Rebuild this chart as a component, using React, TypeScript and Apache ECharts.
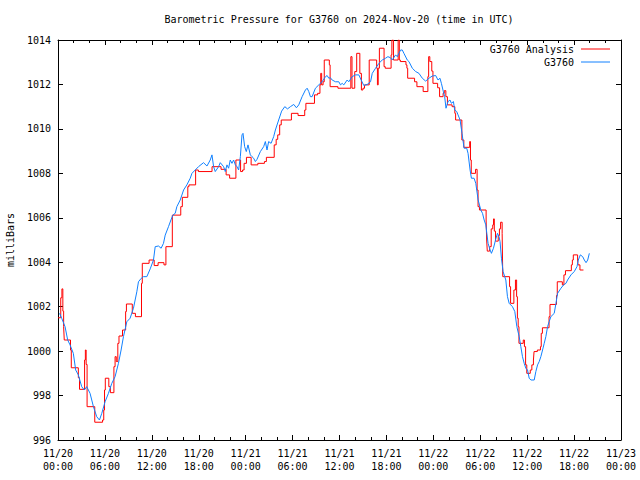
import React, { useEffect, useRef } from "react";
import * as echarts from "echarts";

const FONT = "'DejaVu Sans Mono', 'Liberation Mono', monospace";

const TITLE = "Barometric Pressure for G3760 on 2024-Nov-20 (time in UTC)";
const Y_NAME = "milliBars";
const SERIES_NAMES = ["G3760 Analysis", "G3760"];
const TICK_DATES = ["11/20", "11/20", "11/20", "11/20", "11/21", "11/21", "11/21", "11/21", "11/22", "11/22", "11/22", "11/22", "11/23"];
const TICK_TIMES = ["00:00", "06:00", "12:00", "18:00", "00:00", "06:00", "12:00", "18:00", "00:00", "06:00", "12:00", "18:00", "00:00"];

// hours since 2024-11-20 00:00 UTC, pressure in mb
const analysisHours = [
  0.0, 0.35, 0.5, 0.62, 0.72, 0.8, 1.6, 1.7, 2.6, 2.75, 3.4, 3.5, 3.6, 3.72, 4.7, 5.7, 5.85, 5.95, 6.05, 6.5,
  6.7, 7.15, 7.3, 7.45, 7.65, 7.8, 8.25, 8.65, 8.75, 9.5, 9.9, 10.68, 10.78, 11.65, 12.3, 12.8, 13.55, 13.8, 14.62, 15.7,
  15.9, 16.6, 16.75, 17.6, 17.95, 19.7, 20.85, 21.5, 21.95, 22.75, 23.35, 23.6, 23.8, 24.1, 24.7, 25.55, 26.4, 26.65, 27.65, 27.9,
  28.1, 28.35, 28.55, 29.85, 30.7, 31.55, 31.7, 32.8, 33.2, 33.5, 33.6, 33.72, 33.9, 34.05, 34.7, 34.8, 35.8, 37.45, 37.6, 37.95,
  38.2, 38.6, 38.8, 39.0, 39.2, 39.8, 40.75, 40.85, 40.95, 41.1, 41.7, 41.85, 42.6, 42.7, 42.9, 43.5, 43.65, 43.78, 44.5, 44.62,
  44.72, 45.6, 45.9, 46.7, 47.3, 47.4, 47.55, 47.8, 47.95, 48.55, 48.8, 49.25, 49.4, 49.6, 49.8, 50.4, 50.75, 50.85, 51.65, 51.9,
  52.65, 52.75, 52.85, 53.4, 53.6, 53.72, 53.9, 54.75, 54.82, 54.9, 55.2, 55.4, 55.6, 55.7, 55.8, 55.95, 56.3, 56.45, 56.6, 56.8,
  56.88, 57.75, 57.88, 58.3, 58.5, 58.65, 58.75, 58.85, 58.95, 59.5, 59.65, 59.8, 59.95, 60.4, 60.6, 60.8, 60.88, 61.3, 61.7, 61.8,
  61.95, 62.8, 62.92, 63.75, 63.85, 64.5, 64.7, 64.9, 65.65, 65.78, 65.9, 66.45, 66.5, 66.75, 67.2,
];
const analysisValues = [
  1001.5, 1002.4, 1002.8, 1001.8, 1001.1, 1000.5, 1000.05, 999.25, 998.8, 998.28, 999.6, 1000.05, 999.4, 997.5, 996.8, 996.9, 997.35, 998.25, 998.78, 998.4,
  998.13, 999.3, 999.75, 999.53, 1000.35, 1000.68, 1000.95, 1001.78, 1002.12, 1001.7, 1001.55, 1003.05, 1003.95, 1004.1, 1003.85, 1003.98, 1003.88, 1004.7, 1006.12, 1006.5,
  1006.92, 1007.4, 1007.48, 1008.15, 1008.08, 1008.3, 1008.18, 1007.93, 1007.78, 1008.6, 1008.08, 1008.15, 1008.45, 1008.72, 1008.38, 1008.45, 1008.53, 1008.72, 1009.28, 1009.53,
  1009.73, 1010.18, 1010.4, 1010.7, 1010.6, 1010.85, 1011.15, 1011.53, 1011.6, 1011.98, 1012.5, 1011.98, 1012.12, 1013.1, 1012.88, 1011.9, 1011.83, 1013.25, 1011.83, 1012.58,
  1013.4, 1012.5, 1011.75, 1011.83, 1011.98, 1013.1, 1012.73, 1011.98, 1012.73, 1013.63, 1012.8, 1012.73, 1013.33, 1014.0, 1013.1, 1014.0, 1013.1, 1013.03, 1012.88, 1012.73,
  1012.28, 1012.12, 1011.9, 1011.68, 1012.35, 1013.25, 1013.03, 1012.6, 1012.05, 1011.85, 1011.45, 1011.6, 1011.72, 1011.45, 1011.08, 1011.0, 1010.7, 1010.4, 1009.5, 1009.17,
  1009.43, 1008.6, 1008.0, 1008.18, 1007.25, 1006.5, 1006.35, 1005.9, 1005.0, 1004.5, 1004.7, 1005.5, 1005.68, 1005.95, 1005.4, 1004.95, 1005.2, 1005.5, 1005.8, 1005.3,
  1003.35, 1002.9, 1002.15, 1002.75, 1003.2, 1002.45, 1001.48, 1001.1, 1000.35, 1000.5, 1000.2, 999.38, 999.0, 999.15, 999.38, 999.6, 999.98, 1000.05, 1000.2, 1000.8,
  1001.05, 1001.55, 1002.1, 1002.5, 1003.12, 1002.98, 1003.43, 1003.62, 1003.88, 1004.1, 1004.33, 1004.1, 1003.88, 1003.65, 1003.65,
];

const stationHours = [
  0.2, 0.47, 0.9, 1.24, 1.54, 1.96, 2.26, 2.6, 3.03, 3.37, 3.67, 4.1, 4.53, 4.95, 5.3, 5.6, 6.02, 6.45, 6.88, 7.3,
  7.73, 8.07, 8.37, 8.8, 9.22, 9.65, 10.08, 10.29, 10.63, 10.93, 11.36, 11.79, 12.21, 12.43, 12.85, 13.19, 13.49, 13.71, 14.13, 14.44,
  14.69, 14.99, 15.2, 15.63, 16.06, 16.48, 16.91, 17.13, 17.55, 17.97, 18.61, 19.05, 19.47, 19.69, 19.9, 20.11, 20.54, 20.75, 21.18, 21.39,
  21.61, 21.82, 22.03, 22.25, 22.46, 22.68, 22.89, 23.1, 23.32, 23.53, 23.66, 23.87, 24.08, 24.3, 24.6, 24.81, 25.02, 25.24, 25.45, 25.88,
  26.3, 26.52, 26.73, 26.94, 27.25, 27.58, 27.8, 28.22, 28.6, 29.0, 29.35, 29.72, 30.15, 30.49, 30.79, 31.22, 31.64, 31.86, 32.07, 32.28,
  32.5, 32.92, 33.35, 33.78, 34.2, 34.42, 34.63, 34.84, 35.06, 35.49, 35.91, 36.13, 36.34, 36.55, 36.98, 37.19, 37.62, 38.05, 38.47, 38.77,
  39.11, 39.54, 39.97, 40.19, 40.61, 41.04, 41.47, 41.89, 42.19, 42.53, 42.75, 43.17, 43.39, 43.81, 44.03, 44.24, 44.67, 44.88, 45.31, 45.74,
  46.16, 46.59, 47.02, 47.44, 47.87, 48.3, 48.6, 48.85, 49.03, 49.28, 49.45, 49.62, 49.88, 50.13, 50.31, 50.57, 50.73, 50.99, 51.16, 51.42,
  51.67, 51.93, 52.27, 52.44, 52.7, 52.87, 53.21, 53.43, 53.73, 54.07, 54.29, 54.5, 54.71, 54.84, 55.0, 55.26, 55.43, 55.69, 55.99, 56.2,
  56.4, 56.53, 56.71, 56.92, 57.27, 57.48, 57.7, 58.12, 58.42, 58.68, 58.98, 59.19, 59.4, 59.62, 59.83, 60.05, 60.26, 60.48, 60.9, 61.11,
  61.33, 61.54, 61.75, 61.97, 62.18, 62.39, 62.61, 62.82, 63.03, 63.46, 63.68, 63.89, 64.32, 64.66, 64.96, 65.17, 65.6, 66.02, 66.37, 66.54,
  66.8, 67.1, 67.31, 67.53, 67.74, 67.95,
];
const stationValues = [
  1001.7, 1001.48, 1001.1, 1000.5, 1000.28, 999.9, 999.15, 998.93, 998.4, 998.25, 998.4, 998.1, 997.5, 997.05, 996.9, 997.2, 997.72, 998.1, 998.55, 998.85,
  999.45, 1000.05, 1000.65, 1001.32, 1001.48, 1001.93, 1002.67, 1003.12, 1003.27, 1003.35, 1003.35, 1003.7, 1004.1, 1004.7, 1004.73, 1004.63, 1004.85, 1005.22, 1005.6, 1005.9,
  1006.12, 1006.2, 1006.5, 1006.8, 1007.25, 1007.48, 1007.78, 1008.0, 1008.15, 1008.3, 1008.48, 1008.33, 1008.6, 1008.83, 1008.3, 1008.08, 1008.3, 1008.48, 1008.3, 1008.08,
  1008.38, 1008.23, 1008.6, 1008.45, 1008.6, 1008.38, 1008.3, 1008.15, 1008.75, 1009.73, 1009.8, 1009.2, 1008.98, 1009.28, 1008.83, 1008.75, 1008.68, 1008.53, 1008.63, 1008.98,
  1009.2, 1009.43, 1009.05, 1009.43, 1009.35, 1009.65, 1009.95, 1010.4, 1010.8, 1011.0, 1010.9, 1011.0, 1011.1, 1010.95, 1011.08, 1011.45, 1011.75, 1011.83, 1011.68, 1011.45,
  1011.45, 1011.83, 1011.98, 1012.12, 1012.35, 1012.4, 1012.28, 1012.3, 1012.2, 1012.12, 1012.12, 1011.98, 1012.05, 1011.98, 1012.2, 1012.12, 1012.35, 1012.43, 1012.43, 1012.2,
  1011.95, 1012.0, 1012.12, 1012.5, 1012.73, 1012.95, 1013.1, 1013.18, 1013.25, 1013.2, 1013.1, 1013.33, 1013.25, 1013.55, 1013.55, 1013.4, 1013.1, 1013.03, 1012.73, 1012.58,
  1012.5, 1012.28, 1012.15, 1012.28, 1012.38, 1012.4, 1012.2, 1012.28, 1012.05, 1011.68, 1011.45, 1010.93, 1011.23, 1011.3, 1011.15, 1011.23, 1010.85, 1010.78, 1010.63, 1010.4,
  1009.8, 1009.13, 1009.13, 1008.9, 1008.15, 1007.78, 1007.78, 1007.55, 1006.8, 1006.35, 1006.2, 1005.9, 1005.68, 1005.3, 1004.85, 1004.55, 1004.4, 1004.63, 1005.05, 1005.3,
  1005.15, 1004.93, 1004.18, 1003.58, 1003.2, 1002.45, 1002.15, 1002.0, 1001.78, 1001.1, 1000.65, 1000.2, 999.75, 999.45, 999.23, 999.15, 998.78, 998.7, 998.7, 999.08,
  999.38, 999.53, 999.75, 1000.05, 1000.35, 1000.65, 1001.1, 1001.33, 1001.55, 1001.7, 1002.15, 1002.6, 1002.83, 1002.98, 1003.05, 1003.2, 1003.43, 1003.58, 1003.8, 1004.1,
  1004.33, 1004.25, 1004.1, 1003.98, 1004.1, 1004.4,
];

const X_MIN = 0;
const X_MAX = 72;
const X_STEP = 6;
const Y_MIN = 996;
const Y_MAX = 1014;
const Y_STEP = 2;

const RED = "#ff0000";
const BLUE = "#1080ff";

export default function App() {
  const ref = useRef<HTMLDivElement>(null);

  useEffect(() => {
    if (!ref.current) return;
    const chart = echarts.init(ref.current, null, { renderer: "svg" });

    const grid = { left: 58, right: 19, top: 40, bottom: 40, containLabel: false, outerBoundsMode: "none" };
    const lineStyle = { color: "#000", width: 1 };
    const xLabel = (v: number) => {
      const i = Math.round(v / X_STEP);
      return `${TICK_DATES[i]}\n${TICK_TIMES[i]}`;
    };

    const xCommon = {
      type: "value" as const,
      min: X_MIN,
      max: X_MAX,
      interval: X_STEP,
      axisLine: { show: true, onZero: false, lineStyle },
      axisTick: { show: true, inside: true, length: 5, lineStyle },
      minorTick: { show: true, splitNumber: 3, length: 3, lineStyle },
      splitLine: { show: false },
    };
    const yCommon = {
      type: "value" as const,
      min: Y_MIN,
      max: Y_MAX,
      interval: Y_STEP,
      axisLine: { show: true, onZero: false, lineStyle },
      axisTick: { show: true, inside: true, length: 5, lineStyle },
      splitLine: { show: false },
    };

    const legendY = [49, 62];

    chart.setOption({
      animation: false,
      backgroundColor: "#fff",
      grid,
      xAxis: [
        {
          ...xCommon,
          position: "bottom",
          axisLabel: {
            show: true,
            formatter: xLabel,
            fontFamily: FONT,
            fontSize: 10,
            color: "#000",
            lineHeight: 13,
            margin: 7,
            showMinLabel: true,
            showMaxLabel: true,
            hideOverlap: false,
          },
        },
        { ...xCommon, position: "top", axisLabel: { show: false } },
      ],
      yAxis: [
        {
          ...yCommon,
          position: "left",
          name: Y_NAME,
          nameLocation: "middle",
          nameRotate: 90,
          nameGap: 43,
          nameTextStyle: { fontFamily: FONT, fontSize: 10, color: "#000" },
          axisLabel: {
            show: true,
            formatter: (v: number) => String(v),
            fontFamily: FONT,
            fontSize: 10,
            color: "#000",
            margin: 7,
          },
        },
        { ...yCommon, position: "right", axisLabel: { show: false } },
      ],
      graphic: [
        {
          type: "text",
          x: 339,
          y: 19,
          style: {
            text: TITLE,
            fontFamily: FONT,
            fontSize: 10,
            fill: "#000",
            textAlign: "center",
            textVerticalAlign: "middle",
          },
        },
        ...SERIES_NAMES.flatMap((name, i) => [
          {
            type: "text",
            x: 574,
            y: legendY[i],
            style: {
              text: name,
              fontFamily: FONT,
              fontSize: 10,
              fill: "#000",
              textAlign: "right",
              textVerticalAlign: "middle",
            },
          },
          {
            type: "line",
            shape: { x1: 581, y1: legendY[i], x2: 610, y2: legendY[i] },
            style: { stroke: i === 0 ? RED : BLUE, lineWidth: 1 },
          },
        ]),
      ],
      series: [
        {
          name: SERIES_NAMES[0],
          type: "line",
          step: "end",
          xAxisIndex: 0,
          yAxisIndex: 0,
          showSymbol: false,
          symbol: "none",
          data: analysisHours.map((h, i) => [h, analysisValues[i]]),
          lineStyle: { color: RED, width: 1 },
          itemStyle: { color: RED },
        },
        {
          name: SERIES_NAMES[1],
          type: "line",
          xAxisIndex: 0,
          yAxisIndex: 0,
          showSymbol: false,
          symbol: "none",
          data: stationHours.map((h, i) => [h, stationValues[i]]),
          lineStyle: { color: BLUE, width: 1 },
          itemStyle: { color: BLUE },
        },
      ],
    });

    return () => chart.dispose();
  }, []);

  return (
    <div
      ref={ref}
      style={{ position: "absolute", left: 0, top: 0, width: 640, height: 480, background: "#fff" }}
    />
  );
}
